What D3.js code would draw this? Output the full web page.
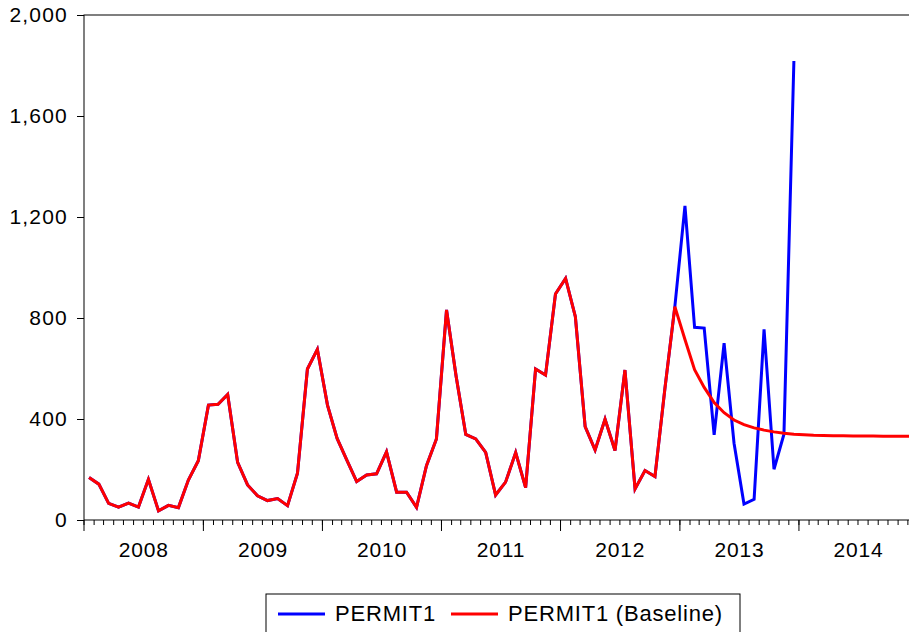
<!DOCTYPE html>
<html>
<head>
<meta charset="utf-8">
<script src="https://cdn.jsdelivr.net/npm/d3@7"></script>
<style>
  body { margin: 0; background: #fff; }
  svg { display: block; font-family: "Liberation Sans", Arial, sans-serif; }
</style>
</head>
<body>
<div id="chart"></div>
<script>
// monthly building permits, Jan 2008 onwards
const permitActual = [
    168, 142, 66, 51, 67, 51, 161, 36, 58, 49, 158, 235,
    455, 458, 497, 228, 139, 96, 77, 85, 57, 185, 598, 676,
    455, 323, 238, 152, 178, 183, 270, 110, 110, 50, 215, 321,
    832, 568, 339, 321, 268, 99, 150, 267, 128, 598, 574, 895,
    957, 805, 370, 277, 399, 275, 594, 123, 196, 172, 520, 845,
    1244, 763, 760, 337, 700, 304, 63, 82, 755, 201, 340, 1818
];
// baseline path after Dec 2012
const baselineForecast = [
    715, 595, 525, 465, 425, 396, 378, 365, 356, 349, 344, 340,
    338, 336, 335, 334, 334, 333, 333, 333, 332, 332, 332, 332
];
const permitBaseline = permitActual.slice(0, 60).concat(baselineForecast);

const years = [2008, 2009, 2010, 2011, 2012, 2013, 2014];
const yTicks = [0, 400, 800, 1200, 1600, 2000];
const seriesNames = ["PERMIT1", "PERMIT1 (Baseline)"];
const seriesColors = ["#0000ff", "#ff0000"];

const width = 909, height = 632;
const margin = { left: 84, top: 15, bottom: 112 };
const plotRight = 918; // frame runs past the right edge of the picture

const svg = d3.select("#chart").append("svg")
    .attr("width", width)
    .attr("height", height);

const months = d3.timeMonth.range(new Date(2008, 0, 1), new Date(2015, 0, 1));

const x = d3.scaleTime()
    .domain([new Date(2008, 0, 1), new Date(2015, 0, 1)])
    .range([margin.left, plotRight]);

const y = d3.scaleLinear()
    .domain([0, 2000])
    .range([height - margin.bottom, margin.top]);

// centre of each month
const xMid = (d) => (x(d) + x(d3.timeMonth.offset(d, 1))) / 2;

// frame
svg.append("rect")
    .attr("x", margin.left)
    .attr("y", margin.top)
    .attr("width", plotRight - margin.left)
    .attr("height", y(0) - margin.top)
    .style("fill", "none")
    .style("stroke", "#000")
    .style("stroke-width", 1);

// y axis
const yAxis = svg.append("g")
    .attr("transform", `translate(${margin.left},0)`)
    .call(d3.axisLeft(y).tickValues(yTicks).tickSize(7).tickPadding(9)
        .tickFormat(d3.format(",")));
yAxis.select(".domain").remove();
yAxis.selectAll("text")
    .style("font-size", "21px")
    .style("letter-spacing", "1.2px")
    .style("font-family", "'Liberation Sans', Arial, sans-serif")
    .attr("fill", "#000");

// x axis: monthly minor ticks, yearly major ticks
const xAxisG = svg.append("g")
    .attr("transform", `translate(0,${y(0)})`);

xAxisG.selectAll(".minor")
    .data(months)
    .enter().append("line")
    .attr("class", "minor")
    .attr("x1", d => x(d)).attr("x2", d => x(d))
    .attr("y1", 0).attr("y2", 5)
    .style("stroke", "#000");

xAxisG.selectAll(".major")
    .data(years)
    .enter().append("line")
    .attr("class", "major")
    .attr("x1", d => x(new Date(d, 0, 1))).attr("x2", d => x(new Date(d, 0, 1)))
    .attr("y1", 0).attr("y2", 11)
    .style("stroke", "#000");

xAxisG.selectAll(".yearLabel")
    .data(years)
    .enter().append("text")
    .attr("class", "yearLabel")
    .attr("x", d => (x(new Date(d, 0, 1)) + x(new Date(d + 1, 0, 1))) / 2)
    .attr("y", 37)
    .attr("text-anchor", "middle")
    .style("font-size", "21px")
    .style("letter-spacing", "0.8px")
    .text(d => d);

// lines
const line = d3.line()
    .x((d, i) => xMid(months[i]))
    .y(d => y(d));

const plot = svg.append("g");

plot.append("path")
    .attr("d", line(permitActual))
    .style("fill", "none")
    .style("stroke", seriesColors[0])
    .style("stroke-width", 3)
    .style("stroke-linejoin", "miter");

plot.append("path")
    .attr("d", line(permitBaseline))
    .style("fill", "none")
    .style("stroke", seriesColors[1])
    .style("stroke-width", 3)
    .style("stroke-linejoin", "miter");

// legend
const legend = svg.append("g");
legend.append("rect")
    .attr("x", 266)
    .attr("y", 594)
    .attr("width", 474)
    .attr("height", 44)
    .style("fill", "#fff")
    .style("stroke", "#000");

const legendX = [278, 451];
const legendItem = legend.selectAll(".legendItem")
    .data(seriesNames)
    .enter().append("g")
    .attr("class", "legendItem")
    .attr("transform", (d, i) => `translate(${legendX[i]},614)`);

legendItem.append("line")
    .attr("x1", 0).attr("x2", 47)
    .style("stroke", (d, i) => seriesColors[i])
    .style("stroke-width", 3);

legendItem.append("text")
    .attr("x", 57)
    .attr("y", 7)
    .style("font-size", "22px")
    .style("letter-spacing", "0.8px")
    .text(d => d);
</script>
</body>
</html>
